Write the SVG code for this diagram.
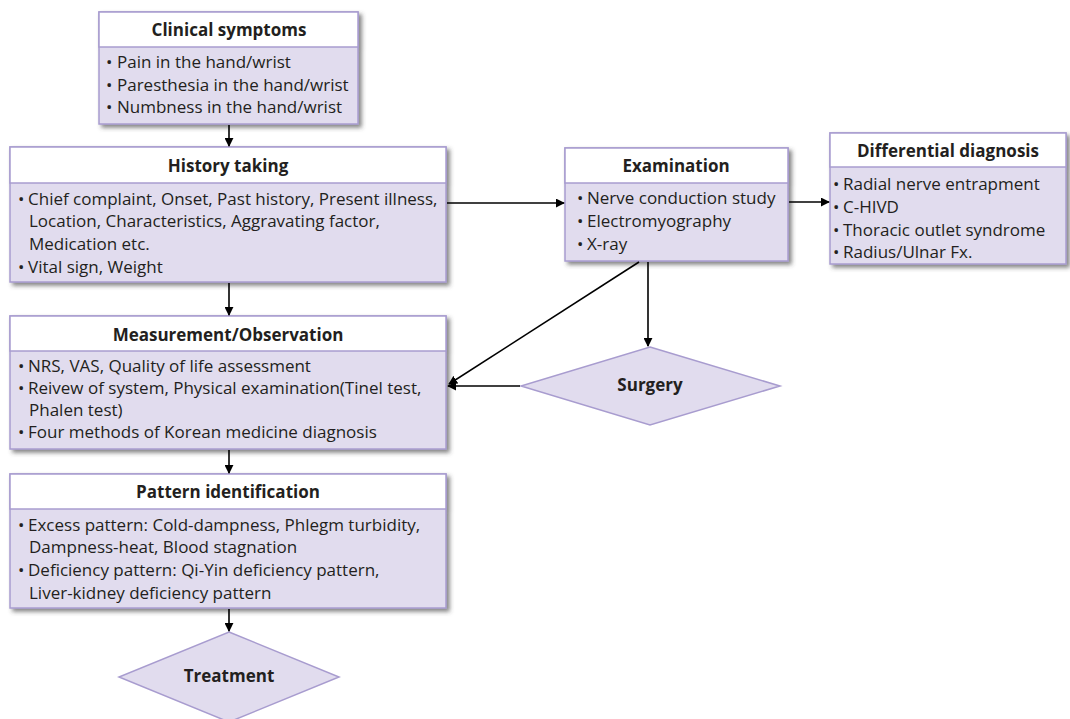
<svg xmlns="http://www.w3.org/2000/svg" width="1070" height="719" viewBox="0 0 1070 719">
<defs>
<filter id="sh" x="-5%" y="-5%" width="115%" height="125%">
<feDropShadow dx="3" dy="3" stdDeviation="2" flood-color="#444" flood-opacity="0.65"/>
</filter>
<marker id="ah" viewBox="0 0 10 10" refX="9" refY="5" markerWidth="9" markerHeight="9" markerUnits="userSpaceOnUse" orient="auto">
<path d="M0,0 L10,5 L0,10 z" fill="#000"/>
</marker>
</defs>
<style>
.body{fill:#e1dcee;stroke:#a89ccf;stroke-width:1.5}
.head{fill:#fff;stroke:#a89ccf;stroke-width:1.5}
.dia{fill:#e1dcee;stroke:#a89ccf;stroke-width:1.5}
.t{font-family:"Open Sans","Liberation Sans",sans-serif;font-size:17px;fill:#231f20}
.h{font-family:"Open Sans","Liberation Sans",sans-serif;font-size:17px;font-weight:bold;fill:#231f20;text-anchor:middle}
.c{stroke:#000;stroke-width:1.6;fill:none;marker-end:url(#ah)}
</style>
<rect width="1070" height="719" fill="#fff"/>

<g id="clinical">
<g filter="url(#sh)">
<rect class="body" x="99" y="12" width="259" height="112"/>
<rect class="head" x="99" y="12" width="259" height="35"/>
</g>
<text class="h" x="229" y="36">Clinical symptoms</text>
<text class="t" y="68"><tspan x="106">•</tspan><tspan x="117">Pain in the hand/wrist</tspan></text>
<text class="t" y="91"><tspan x="106">•</tspan><tspan x="117">Paresthesia in the hand/wrist</tspan></text>
<text class="t" y="113"><tspan x="106">•</tspan><tspan x="117">Numbness in the hand/wrist</tspan></text>
</g>

<g id="history">
<g filter="url(#sh)">
<rect class="body" x="10" y="147" width="436" height="135"/>
<rect class="head" x="10" y="147" width="436" height="36"/>
</g>
<text class="h" x="228" y="172">History taking</text>
<text class="t" y="205"><tspan x="18">•</tspan><tspan x="28">Chief complaint, Onset, Past history, Present illness,</tspan></text>
<text class="t" x="29" y="227">Location, Characteristics, Aggravating factor,</text>
<text class="t" x="29" y="250">Medication etc.</text>
<text class="t" y="273"><tspan x="18">•</tspan><tspan x="28">Vital sign, Weight</tspan></text>
</g>

<g id="measurement">
<g filter="url(#sh)">
<rect class="body" x="10" y="316" width="436" height="133"/>
<rect class="head" x="10" y="316" width="436" height="35"/>
</g>
<text class="h" x="228" y="341">Measurement/Observation</text>
<text class="t" y="372"><tspan x="18">•</tspan><tspan x="28">NRS, VAS, Quality of life assessment</tspan></text>
<text class="t" y="394"><tspan x="18">•</tspan><tspan x="28">Reivew of system, Physical examination(Tinel test,</tspan></text>
<text class="t" x="29" y="416">Phalen test)</text>
<text class="t" y="438"><tspan x="18">•</tspan><tspan x="28">Four methods of Korean medicine diagnosis</tspan></text>
</g>

<g id="pattern">
<g filter="url(#sh)">
<rect class="body" x="10" y="474" width="436" height="134"/>
<rect class="head" x="10" y="474" width="436" height="35"/>
</g>
<text class="h" x="228" y="498">Pattern identification</text>
<text class="t" y="531"><tspan x="18">•</tspan><tspan x="28">Excess pattern: Cold-dampness, Phlegm turbidity,</tspan></text>
<text class="t" x="29" y="553">Dampness-heat, Blood stagnation</text>
<text class="t" y="576"><tspan x="18">•</tspan><tspan x="28">Deficiency pattern: Qi-Yin deficiency pattern,</tspan></text>
<text class="t" x="29" y="599">Liver-kidney deficiency pattern</text>
</g>

<g id="treatment">
<polygon class="dia" points="229,632 339,677 229,722 119,677"/>
<text class="h" x="229" y="682">Treatment</text>
</g>

<g id="examination">
<g filter="url(#sh)">
<rect class="body" x="565" y="148" width="223" height="113"/>
<rect class="head" x="565" y="148" width="223" height="35"/>
</g>
<text class="h" x="676" y="172">Examination</text>
<text class="t" y="204"><tspan x="577">•</tspan><tspan x="587">Nerve conduction study</tspan></text>
<text class="t" y="227"><tspan x="577">•</tspan><tspan x="587">Electromyography</tspan></text>
<text class="t" y="250"><tspan x="577">•</tspan><tspan x="587">X-ray</tspan></text>
</g>

<g id="differential">
<g filter="url(#sh)">
<rect class="body" x="830" y="133" width="236" height="131"/>
<rect class="head" x="830" y="133" width="236" height="34"/>
</g>
<text class="h" x="948" y="157">Differential diagnosis</text>
<text class="t" y="190"><tspan x="833">•</tspan><tspan x="843">Radial nerve entrapment</tspan></text>
<text class="t" y="213"><tspan x="833">•</tspan><tspan x="843">C-HIVD</tspan></text>
<text class="t" y="236"><tspan x="833">•</tspan><tspan x="843">Thoracic outlet syndrome</tspan></text>
<text class="t" y="258"><tspan x="833">•</tspan><tspan x="843">Radius/Ulnar Fx.</tspan></text>
</g>

<g id="surgery">
<polygon class="dia" points="650,347 780,386 650,425 521,386"/>
<text class="h" x="650" y="391">Surgery</text>
</g>

<g id="connectors">
<line class="c" x1="229" y1="125" x2="229" y2="146"/>
<line class="c" x1="229" y1="283" x2="229" y2="315"/>
<line class="c" x1="229" y1="450" x2="229" y2="473"/>
<line class="c" x1="229" y1="609" x2="229" y2="631"/>
<line class="c" x1="447" y1="203" x2="564" y2="203"/>
<line class="c" x1="789" y1="202" x2="829" y2="202"/>
<line class="c" x1="648" y1="262" x2="648" y2="346"/>
<line class="c" x1="520" y1="386" x2="448" y2="386"/>
<line class="c" x1="639" y1="262" x2="449" y2="384"/>
</g>
</svg>
